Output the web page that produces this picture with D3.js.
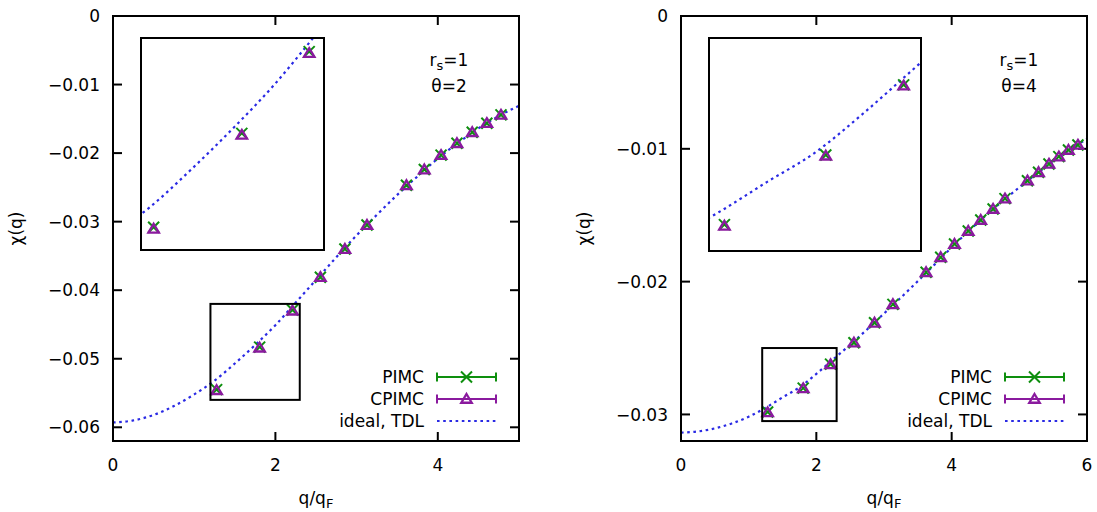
<!DOCTYPE html>
<html>
<head>
<meta charset="utf-8">
<script src="https://cdn.jsdelivr.net/npm/d3@7"></script>
<style>
  body { margin: 0; background: #fff; }
  text { font-family: "DejaVu Sans", sans-serif; font-size: 17px; fill: #000; }
</style>
</head>
<body>
<svg id="chart" width="1097" height="512"></svg>
<script>
// ---- data ----
// theta = 2 panel
var qLeft = [1.276, 1.806, 2.211, 2.554, 2.856, 3.128, 3.614, 3.834, 4.040, 4.236, 4.424, 4.604, 4.778];
var pimcLeft = [-0.0545, -0.0483, -0.0429, -0.0381, -0.0340, -0.0305, -0.0247, -0.0224, -0.0203, -0.01856, -0.01696, -0.01564, -0.01443];
var cpimcLeft = [-0.0546, -0.0484, -0.0430, -0.0381, -0.0340, -0.0305, -0.0247, -0.0224, -0.0203, -0.01856, -0.01696, -0.01564, -0.01443];
var tdlQLeft = [0, 0.25, 0.5, 0.75, 1.0, 1.25, 1.5, 1.75, 2.0, 2.25, 2.5, 2.75, 3.0, 3.25, 3.5, 3.75, 4.0, 4.25, 4.5, 4.75, 5.0];
var tdlLeft = [-0.0593, -0.0590, -0.0582, -0.0569, -0.0552, -0.0532, -0.0507, -0.0480, -0.0451, -0.0418, -0.0385, -0.0352, -0.0320, -0.0290, -0.0261, -0.0234, -0.0208, -0.0185, -0.0164, -0.0146, -0.0131];

// theta = 4 panel
var qRight = [1.280, 1.806, 2.210, 2.556, 2.860, 3.132, 3.622, 3.838, 4.042, 4.245, 4.430, 4.612, 4.788, 5.120, 5.284, 5.438, 5.584, 5.726, 5.866];
var pimcRight = [-0.02982, -0.02802, -0.02621, -0.02460, -0.02310, -0.02171, -0.01930, -0.01817, -0.01717, -0.01619, -0.01536, -0.01453, -0.01375, -0.01240, -0.01177, -0.01114, -0.01059, -0.01009, -0.00971];
var cpimcRight = [-0.02985, -0.02804, -0.02623, -0.02460, -0.02310, -0.02171, -0.01930, -0.01817, -0.01717, -0.01619, -0.01536, -0.01453, -0.01375, -0.01240, -0.01177, -0.01114, -0.01059, -0.01009, -0.00971];
var tdlQRight = [0, 0.25, 0.5, 0.75, 1.0, 1.25, 1.5, 1.75, 2.0, 2.25, 2.5, 2.75, 3.0, 3.25, 3.5, 3.75, 4.0, 4.25, 4.5, 4.75, 5.0, 5.25, 5.5, 5.75, 6.0];
var tdlRight = [-0.03137, -0.03128, -0.03105, -0.03068, -0.03017, -0.02950, -0.02872, -0.02796, -0.02695, -0.02585, -0.02475, -0.02360, -0.02240, -0.02120, -0.01996, -0.01870, -0.01742, -0.01620, -0.01505, -0.01395, -0.01290, -0.01190, -0.01095, -0.01005, -0.00925];

// axes and zoom windows
var xTicksLeft = [0, 2, 4];
var yTicksLeft = [0, -0.01, -0.02, -0.03, -0.04, -0.05, -0.06];
var xTicksRight = [0, 2, 4, 6];
var yTicksRight = [0, -0.01, -0.02, -0.03];
var zoomXLeft = [1.2, 2.3], zoomYLeft = [-0.056, -0.042];
var zoomXRight = [1.2, 2.3], zoomYRight = [-0.0305, -0.025];
var thetas = [2, 4];
var legendNames = ["PIMC", "CPIMC", "ideal, TDL"];

var green = "#0e8f0e", purple = "#8a1a9e", blue = "#2a2ae4";

var svg = d3.select("#chart");

function drawX(g, x, y, s) {
  g.append("path")
    .attr("d", "M" + (x - s) + "," + (y - s) + "L" + (x + s) + "," + (y + s) +
               "M" + (x - s) + "," + (y + s) + "L" + (x + s) + "," + (y - s))
    .attr("stroke", green).attr("stroke-width", 2).attr("fill", "none");
}
function drawTri(g, x, y, s) {
  g.append("path")
    .attr("d", "M" + x + "," + (y - s) + "L" + (x + s * 1.05) + "," + (y + s * 0.75) +
               "L" + (x - s * 1.05) + "," + (y + s * 0.75) + "Z")
    .attr("stroke", purple).attr("stroke-width", 2.3).attr("fill", "none");
}

function panel(cfg, idx) {
  var left = cfg.box[0], top = cfg.box[1], right = cfg.box[2], bottom = cfg.box[3];
  var x = d3.scaleLinear().domain(cfg.xDom).range([left, right]);
  var y = d3.scaleLinear().domain(cfg.yDom).range([bottom, top]);
  var g = svg.append("g");

  g.append("clipPath").attr("id", "clip" + idx)
    .append("rect").attr("x", left).attr("y", top).attr("width", right - left).attr("height", bottom - top);

  var line = d3.line().x(function (d) { return x(d[0]); }).y(function (d) { return y(d[1]); })
    .curve(d3.curveMonotoneX);
  var curve = d3.zip(cfg.tdlQ, cfg.tdl);

  // ticks (inward, mirrored)
  var tl = 9;
  cfg.xTicks.forEach(function (t) {
    g.append("line").attr("x1", x(t)).attr("x2", x(t)).attr("y1", bottom).attr("y2", bottom - tl)
      .attr("stroke", "#000").attr("stroke-width", 2);
    g.append("line").attr("x1", x(t)).attr("x2", x(t)).attr("y1", top).attr("y2", top + tl)
      .attr("stroke", "#000").attr("stroke-width", 2);
    g.append("text").attr("x", x(t)).attr("y", bottom + 30).attr("text-anchor", "middle").text(d3.format("d")(t));
  });
  cfg.yTicks.forEach(function (t) {
    g.append("line").attr("x1", left).attr("x2", left + tl).attr("y1", y(t)).attr("y2", y(t))
      .attr("stroke", "#000").attr("stroke-width", 2);
    g.append("line").attr("x1", right).attr("x2", right - tl).attr("y1", y(t)).attr("y2", y(t))
      .attr("stroke", "#000").attr("stroke-width", 2);
    g.append("text").attr("x", left - 13).attr("y", y(t)).attr("dy", "0.36em").attr("text-anchor", "end")
      .text(t === 0 ? "0" : d3.format(".2f")(t));
  });

  // TDL curve
  g.append("path").datum(curve).attr("d", line).attr("clip-path", "url(#clip" + idx + ")")
    .attr("fill", "none").attr("stroke", blue).attr("stroke-width", 2.2).attr("stroke-dasharray", "2.6,3.6");

  // points
  cfg.q.forEach(function (q, i) { drawX(g, x(q), y(cfg.pimc[i]), 5.5); });
  cfg.q.forEach(function (q, i) { drawTri(g, x(q), y(cfg.cpimc[i]), 5); });

  // zoom window marker in main plot
  g.append("rect").attr("x", x(cfg.zx[0])).attr("y", y(cfg.zy[1]))
    .attr("width", x(cfg.zx[1]) - x(cfg.zx[0])).attr("height", y(cfg.zy[0]) - y(cfg.zy[1]))
    .attr("fill", "none").attr("stroke", "#000").attr("stroke-width", 2);

  // border
  g.append("rect").attr("x", left).attr("y", top).attr("width", right - left).attr("height", bottom - top)
    .attr("fill", "none").attr("stroke", "#000").attr("stroke-width", 2);

  // inset
  var ib = cfg.inset;
  var ix = d3.scaleLinear().domain(cfg.zx).range([ib[0], ib[2]]);
  var iy = d3.scaleLinear().domain(cfg.zy).range([ib[3], ib[1]]);
  g.append("clipPath").attr("id", "iclip" + idx)
    .append("rect").attr("x", ib[0]).attr("y", ib[1]).attr("width", ib[2] - ib[0]).attr("height", ib[3] - ib[1]);
  g.append("rect").attr("x", ib[0]).attr("y", ib[1]).attr("width", ib[2] - ib[0]).attr("height", ib[3] - ib[1])
    .attr("fill", "#fff");
  var iline = d3.line().x(function (d) { return ix(d[0]); }).y(function (d) { return iy(d[1]); })
    .curve(d3.curveMonotoneX);
  g.append("path").datum(curve).attr("d", iline).attr("clip-path", "url(#iclip" + idx + ")")
    .attr("fill", "none").attr("stroke", blue).attr("stroke-width", 2.2).attr("stroke-dasharray", "2.6,3.6");
  var ig = g.append("g").attr("clip-path", "url(#iclip" + idx + ")");
  cfg.q.forEach(function (q, i) {
    if (q >= cfg.zx[0] && q <= cfg.zx[1]) drawX(ig, ix(q), iy(cfg.pimc[i]), 5.5);
  });
  cfg.q.forEach(function (q, i) {
    if (q >= cfg.zx[0] && q <= cfg.zx[1]) drawTri(ig, ix(q), iy(cfg.cpimc[i]), 5);
  });
  g.append("rect").attr("x", ib[0]).attr("y", ib[1]).attr("width", ib[2] - ib[0]).attr("height", ib[3] - ib[1])
    .attr("fill", "none").attr("stroke", "#000").attr("stroke-width", 2);

  // labels
  var cx = (left + right) / 2, cy = (top + bottom) / 2;
  g.append("text").attr("transform", "translate(" + (left - 91) + "," + cy + ") rotate(-90)")
    .attr("text-anchor", "middle").text("\u03c7(q)");
  var xl = g.append("text").attr("x", cx).attr("y", 504).attr("text-anchor", "middle");
  xl.append("tspan").text("q/q");
  xl.append("tspan").attr("dy", 4).attr("font-size", "13px").text("F");

  // parameters
  var r = g.append("text").attr("x", cfg.annX).attr("y", 66).attr("text-anchor", "middle");
  r.append("tspan").text("r");
  r.append("tspan").attr("dy", 4).attr("font-size", "13px").text("s");
  r.append("tspan").attr("dy", -4).text("=1");
  g.append("text").attr("x", cfg.annX).attr("y", 92).attr("text-anchor", "middle").text("\u03b8=" + thetas[idx]);

  // legend
  var lx = cfg.legX, rows = [377, 399, 421];
  legendNames.forEach(function (name, i) {
    g.append("text").attr("x", lx).attr("y", rows[i]).attr("dy", "0.36em").attr("text-anchor", "end").text(name);
  });
  var l0 = lx + 13, l1 = lx + 72, lm = (l0 + l1) / 2;
  [green, purple].forEach(function (c, i) {
    var yy = rows[i];
    g.append("path")
      .attr("d", "M" + l0 + "," + yy + "L" + l1 + "," + yy +
                 "M" + l0 + "," + (yy - 4.5) + "L" + l0 + "," + (yy + 4.5) +
                 "M" + l1 + "," + (yy - 4.5) + "L" + l1 + "," + (yy + 4.5))
      .attr("stroke", c).attr("stroke-width", 2).attr("fill", "none");
  });
  drawX(g, lm, rows[0], 5.5);
  drawTri(g, lm, rows[1], 5);
  g.append("line").attr("x1", l0).attr("x2", l1).attr("y1", rows[2]).attr("y2", rows[2])
    .attr("stroke", blue).attr("stroke-width", 2.2).attr("stroke-dasharray", "2.6,3.6");
}

panel({
  box: [113, 16, 519, 441], xDom: [0, 5], yDom: [-0.062, 0],
  xTicks: xTicksLeft, yTicks: yTicksLeft,
  q: qLeft, pimc: pimcLeft, cpimc: cpimcLeft, tdlQ: tdlQLeft, tdl: tdlLeft,
  zx: zoomXLeft, zy: zoomYLeft, inset: [141, 38, 324, 250],
  annX: 449, legX: 424
}, 0);

panel({
  box: [681, 16, 1087, 441], xDom: [0, 6], yDom: [-0.032, 0],
  xTicks: xTicksRight, yTicks: yTicksRight,
  q: qRight, pimc: pimcRight, cpimc: cpimcRight, tdlQ: tdlQRight, tdl: tdlRight,
  zx: zoomXRight, zy: zoomYRight, inset: [709, 38, 921, 251],
  annX: 1019, legX: 992
}, 1);
</script>
</body>
</html>
